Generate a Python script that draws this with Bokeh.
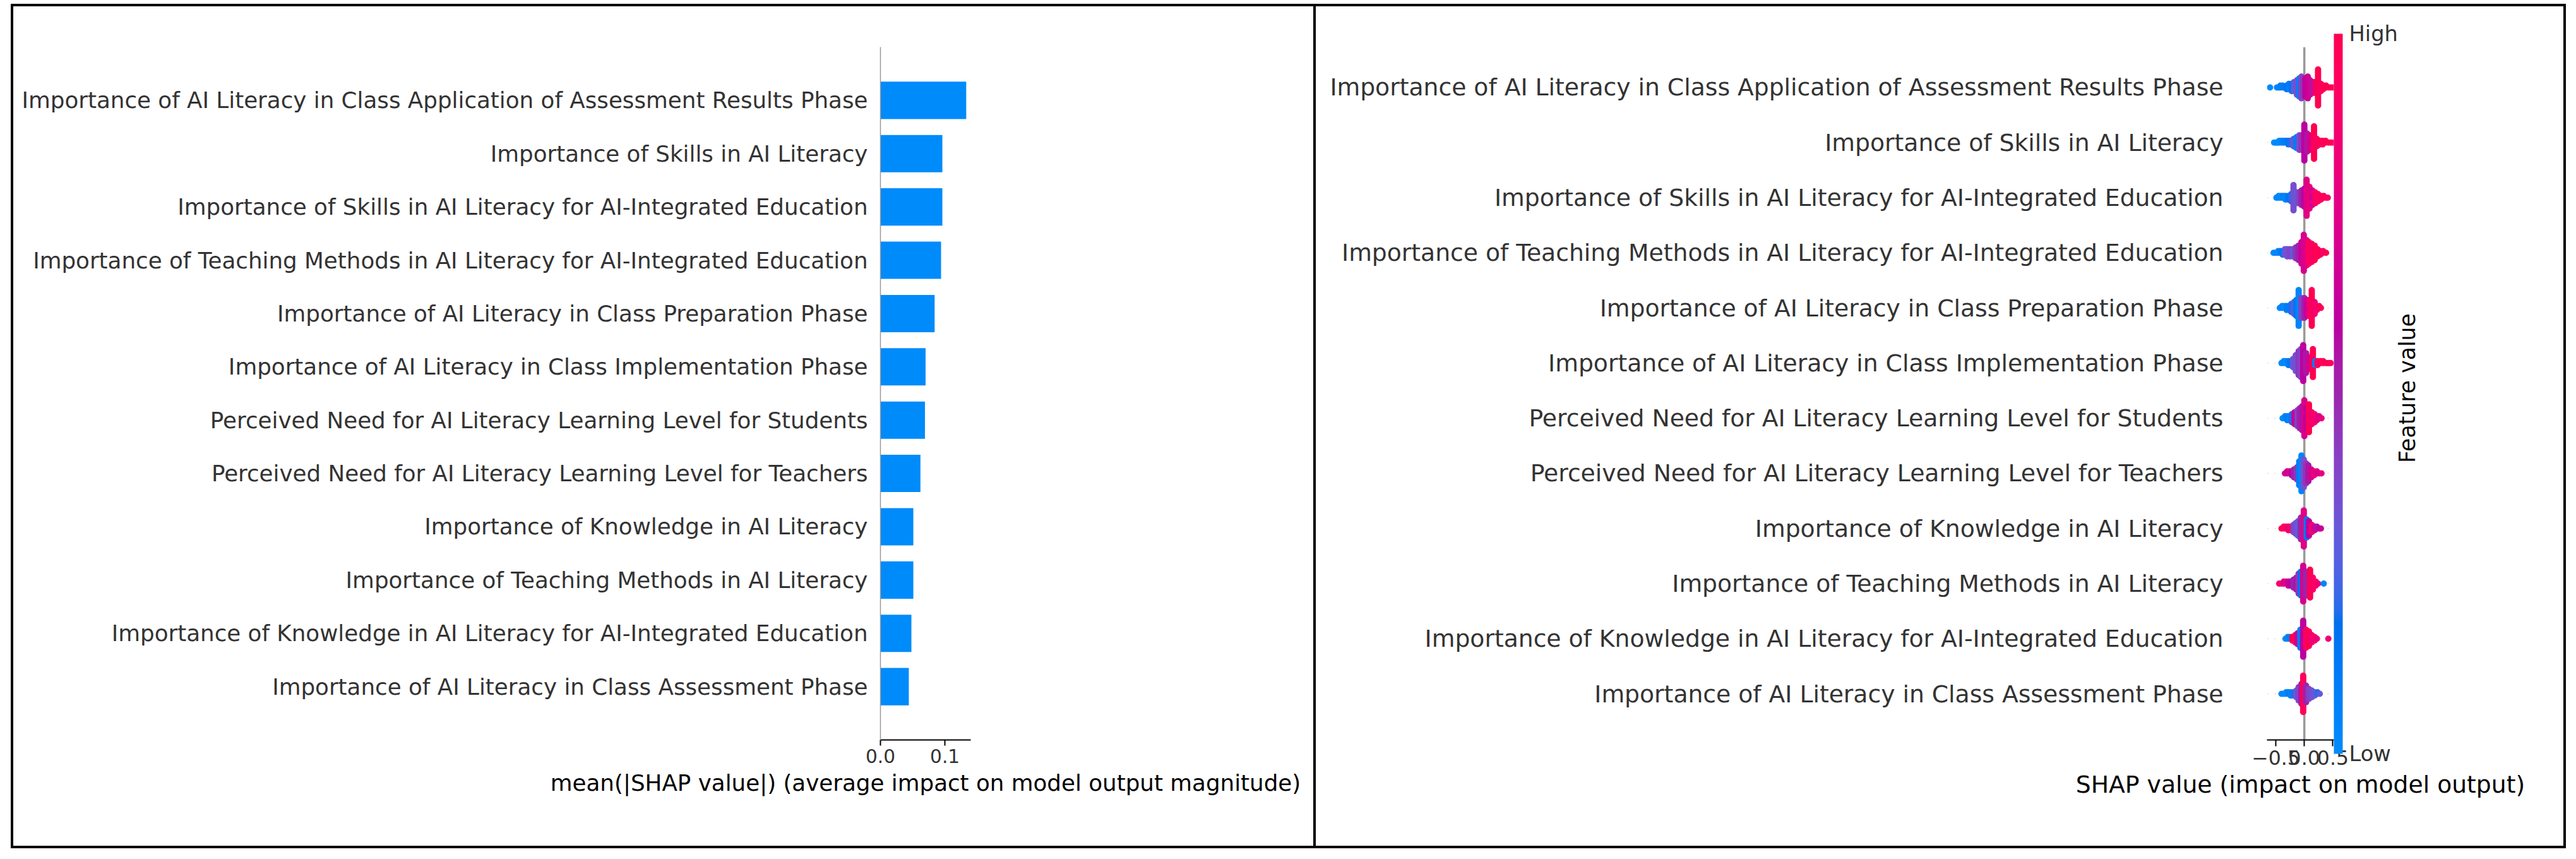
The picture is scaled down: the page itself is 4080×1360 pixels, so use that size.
import numpy as np
from bokeh.plotting import figure
from bokeh.models import (Range1d, FixedTicker, LinearColorMapper, ColorBar, Span,
                          ColumnDataSource, Spacer, LinearAxis)
from bokeh.layouts import row, column
from bokeh.embed import file_html
from bokeh.resources import INLINE

FONT = "DejaVu Sans"

# ---------------- data ----------------
features = [
    "Importance of AI Literacy in Class Application of Assessment Results Phase",
    "Importance of Skills in AI Literacy",
    "Importance of Skills in AI Literacy for AI-Integrated Education",
    "Importance of Teaching Methods in AI Literacy for AI-Integrated Education",
    "Importance of AI Literacy in Class Preparation Phase",
    "Importance of AI Literacy in Class Implementation Phase",
    "Perceived Need for AI Literacy Learning Level for Students",
    "Perceived Need for AI Literacy Learning Level for Teachers",
    "Importance of Knowledge in AI Literacy",
    "Importance of Teaching Methods in AI Literacy",
    "Importance of Knowledge in AI Literacy for AI-Integrated Education",
    "Importance of AI Literacy in Class Assessment Phase",
]
mean_abs_shap = [0.133, 0.096, 0.096, 0.094, 0.084, 0.070, 0.069, 0.062, 0.051, 0.051, 0.048, 0.044]

bar_ticks = [0.0, 0.1]
bar_tick_labels = ["0.0", "0.1"]
swarm_ticks = [-0.5, 0.0, 0.5]
swarm_tick_labels = ["\u22120.5", "0.0", "0.5"]

# beeswarm: per feature (top to bottom) SHAP value groups, feature value (0 low..1 high), count
swarm_shap = [
    [-0.60, -0.48, -0.45, -0.42, -0.38, -0.34, -0.31, -0.27, -0.22, -0.18, -0.13, -0.09, -0.05, -0.02, 0.02, 0.06, 0.10, 0.14, 0.18, 0.24, 0.29, 0.33, 0.38, 0.42, 0.46, 0.50],
    [-0.53, -0.50, -0.47, -0.44, -0.40, -0.36, -0.32, -0.28, -0.24, -0.19, -0.14, -0.09, -0.05, 0.00, 0.05, 0.10, 0.17, 0.22, 0.27, 0.32, 0.37, 0.42, 0.46, 0.50],
    [-0.49, -0.45, -0.41, -0.37, -0.33, -0.28, -0.23, -0.19, -0.14, -0.10, -0.05, 0.00, 0.04, 0.09, 0.14, 0.19, 0.24, 0.29, 0.34, 0.38, 0.41],
    [-0.54, -0.50, -0.46, -0.42, -0.38, -0.34, -0.30, -0.25, -0.20, -0.15, -0.10, -0.05, -0.01, 0.04, 0.08, 0.13, 0.18, 0.23, 0.28, 0.33, 0.38],
    [-0.43, -0.39, -0.35, -0.31, -0.27, -0.23, -0.18, -0.14, -0.10, -0.05, 0.00, 0.04, 0.09, 0.13, 0.18, 0.22, 0.26, 0.29],
    [-0.40, -0.36, -0.32, -0.28, -0.24, -0.20, -0.15, -0.10, -0.06, -0.02, 0.03, 0.08, 0.15, 0.19, 0.23, 0.28, 0.33, 0.38, 0.42, 0.46],
    [-0.38, -0.34, -0.30, -0.26, -0.22, -0.17, -0.12, -0.08, -0.04, 0.00, 0.04, 0.08, 0.13, 0.18, 0.22, 0.26, 0.30],
    [-0.34, -0.30, -0.26, -0.22, -0.18, -0.13, -0.09, -0.05, -0.01, 0.03, 0.07, 0.12, 0.17, 0.22, 0.26, 0.30],
    [-0.40, -0.36, -0.32, -0.28, -0.24, -0.19, -0.15, -0.11, -0.06, -0.01, 0.04, 0.08, 0.13, 0.18, 0.22, 0.26, 0.29],
    [-0.44, -0.40, -0.36, -0.32, -0.28, -0.24, -0.19, -0.14, -0.10, -0.06, -0.02, 0.03, 0.10, 0.15, 0.20, 0.24, 0.34],
    [-0.33, -0.29, -0.25, -0.21, -0.16, -0.12, -0.07, -0.02, 0.03, 0.08, 0.13, 0.18, 0.22, 0.42],
    [-0.40, -0.36, -0.32, -0.28, -0.24, -0.19, -0.14, -0.10, -0.05, -0.02, 0.03, 0.08, 0.13, 0.18, 0.23, 0.27],
]
swarm_feature = [
    [0.0, 0.05, 0.05, 0.1, 0.1, 0.1, 0.15, 0.1, 0.15, 0.3, 0.35, 0.1, 0.4, 0.45, 0.6, 0.65, 0.7, 0.55, 0.8, 1.0, 0.9, 1.0, 1.0, 0.95, 1.0, 1.0],
    [0.0, 0.0, 0.05, 0.0, 0.05, 0.1, 0.1, 0.15, 0.2, 0.3, 0.1, 0.35, 0.45, 0.6, 0.55, 0.7, 1.0, 0.9, 1.0, 0.95, 1.0, 1.0, 1.0, 0.95],
    [0.0, 0.05, 0.0, 0.1, 0.05, 0.15, 0.2, 0.35, 0.3, 0.4, 0.5, 0.6, 0.75, 0.8, 0.7, 0.9, 0.95, 0.9, 1.0, 0.95, 0.9],
    [0.0, 0.05, 0.0, 0.1, 0.15, 0.3, 0.35, 0.4, 0.3, 0.45, 0.5, 0.65, 0.7, 0.75, 0.95, 0.9, 1.0, 0.95, 1.0, 0.9, 1.0],
    [0.0, 0.05, 0.0, 0.1, 0.1, 0.2, 0.25, 0.15, 0.05, 0.4, 0.5, 0.65, 0.8, 1.0, 0.85, 0.9, 1.0, 0.95],
    [0.0, 0.05, 0.0, 0.1, 0.15, 0.3, 0.35, 0.45, 0.4, 0.6, 0.55, 0.7, 1.0, 0.1, 0.9, 1.0, 0.95, 1.0, 1.0, 0.95],
    [0.0, 0.05, 0.1, 0.05, 0.2, 0.65, 0.4, 0.5, 0.55, 0.7, 0.6, 1.0, 0.85, 0.9, 0.8, 0.75, 0.8],
    [0.7, 0.65, 0.75, 0.6, 0.5, 0.45, 0.1, 0.05, 0.35, 0.45, 0.55, 0.7, 0.8, 0.75, 0.7, 0.8],
    [1.0, 0.95, 1.0, 0.8, 0.9, 0.4, 0.35, 0.3, 0.5, 0.75, 0.15, 0.6, 0.85, 0.7, 0.55, 0.6, 0.65],
    [0.85, 0.9, 0.7, 0.75, 0.65, 0.6, 0.5, 0.55, 0.45, 0.15, 0.7, 0.5, 1.0, 0.9, 0.95, 0.8, 0.05],
    [0.0, 0.05, 0.1, 1.0, 0.95, 0.7, 0.1, 0.6, 0.9, 1.0, 0.85, 0.9, 0.8, 0.85],
    [0.0, 0.05, 0.0, 0.1, 0.05, 0.2, 0.3, 0.4, 0.55, 0.95, 0.5, 0.4, 0.35, 0.3, 0.2, 0.3],
]
swarm_count = [
    [1, 1, 1, 2, 2, 1, 3, 4, 5, 6, 9, 11, 13, 11, 11, 13, 9, 7, 7, 21, 5, 3, 2, 1, 1, 1],
    [1, 1, 1, 2, 2, 2, 2, 3, 3, 5, 7, 9, 9, 21, 11, 9, 19, 5, 3, 3, 2, 1, 1, 1],
    [1, 2, 2, 2, 3, 3, 5, 15, 7, 7, 9, 11, 21, 13, 9, 7, 5, 3, 2, 1, 1],
    [1, 1, 2, 2, 3, 4, 5, 5, 5, 7, 9, 13, 21, 15, 13, 11, 9, 5, 3, 2, 1],
    [1, 2, 2, 3, 3, 5, 7, 9, 19, 11, 11, 9, 9, 19, 7, 3, 2, 1],
    [1, 2, 2, 3, 3, 5, 9, 13, 15, 19, 11, 7, 15, 3, 3, 2, 2, 1, 1, 1],
    [1, 2, 3, 3, 5, 7, 9, 11, 13, 19, 11, 15, 7, 5, 3, 2, 1],
    [1, 2, 2, 3, 5, 7, 13, 19, 15, 11, 9, 5, 3, 2, 1, 1],
    [1, 2, 2, 3, 3, 5, 7, 9, 13, 21, 11, 9, 5, 3, 2, 1, 1],
    [1, 1, 2, 2, 3, 3, 5, 7, 11, 13, 19, 13, 15, 7, 3, 1, 1],
    [1, 2, 2, 3, 5, 7, 11, 21, 11, 9, 5, 3, 1, 1],
    [1, 1, 2, 2, 3, 3, 5, 9, 13, 23, 11, 7, 5, 3, 2, 1],
]

# ---------------- shap red_blue colormap (Lch interpolation) ----------------
def lch_palette(n=256):
    half = n // 2
    L = np.concatenate([np.linspace(54.0, 40.0, half), np.linspace(40.0, 54.0, n - half)])
    C = np.linspace(70.0, 90.0, n)
    H = np.linspace(4.6588, 0.35470565 + 2 * np.pi, n)
    a = C * np.cos(H)
    b = C * np.sin(H)
    fy = (L + 16) / 116
    fx = fy + a / 500
    fz = fy - b / 200

    def finv(t):
        return np.where(t > 6 / 29, t ** 3, 3 * (6 / 29) ** 2 * (t - 4 / 29))

    xyz = np.vstack([0.95047 * finv(fx), finv(fy), 1.08883 * finv(fz)])
    M = np.array([[3.2406, -1.5372, -0.4986], [-0.9689, 1.8758, 0.0415], [0.0557, -0.2040, 1.0570]])
    rgb = M @ xyz
    rgb = np.where(rgb > 0.0031308, 1.055 * np.abs(rgb) ** (1 / 2.4) - 0.055, 12.92 * rgb)
    rgb = np.clip(rgb, 0, 1)
    return ["#%02x%02x%02x" % tuple(int(round(v * 255)) for v in rgb[:, i]) for i in range(n)]

red_blue = lch_palette()

# ---------------- left: bar chart ----------------
n_feat = len(features)
ypos = [n_feat - 1 - i for i in range(n_feat)]

p1 = figure(width=2067, height=1337, x_range=Range1d(0, 0.14), y_range=Range1d(-1, n_feat),
            output_backend="svg", toolbar_location=None,
            min_border_left=1373, min_border_right=551, min_border_top=64, min_border_bottom=176,
            styles={"border": "4px solid black", "box-sizing": "border-box"})
p1.hbar(y=ypos, left=0, right=mean_abs_shap, height=0.7, fill_color="#008bfb", line_color=None)
p1.xgrid.visible = False
p1.ygrid.visible = False
p1.outline_line_color = None

xa = p1.xaxis[0]
xa.ticker = FixedTicker(ticks=bar_ticks)
xa.major_label_overrides = dict(zip(bar_ticks, bar_tick_labels))
xa.minor_tick_line_color = None
xa.axis_line_color = "black"
xa.axis_line_width = 2
xa.major_tick_line_color = "black"
xa.major_tick_line_width = 2
xa.major_tick_in = 0
xa.major_tick_out = 9
xa.major_label_standoff = 5
xa.major_label_text_font = FONT
xa.major_label_text_font_size = "29.6px"
xa.major_label_text_color = "#333333"
xa.axis_label = "mean(|SHAP value|) (average impact on model output magnitude)"
xa.axis_label_text_font = FONT
xa.axis_label_text_font_size = "35.7px"
xa.axis_label_text_font_style = "normal"
xa.axis_label_text_color = "black"
xa.axis_label_standoff = 8

ya = p1.yaxis[0]
ya.ticker = FixedTicker(ticks=ypos)
ya.major_label_overrides = {y: f for y, f in zip(ypos, features)}
ya.minor_tick_line_color = None
ya.major_tick_line_color = None
ya.major_tick_out = 0
ya.major_tick_in = 0
ya.axis_line_color = "#999999"
ya.axis_line_width = 1.5
ya.major_label_standoff = 20
ya.major_label_text_font = FONT
ya.major_label_text_font_size = "35.7px"
ya.major_label_text_color = "#333333"

# ---------------- right: beeswarm ----------------
xs_all, ys_all, fv_all = [], [], []
row_height = 0.4
for i in range(n_feat):
    sx = np.repeat(np.array(swarm_shap[i], dtype=float), swarm_count[i])
    fv = np.repeat(np.array(swarm_feature[i], dtype=float), swarm_count[i])
    nbins = 100
    quant = np.round(nbins * (sx - sx.min()) / (sx.max() - sx.min() + 1e-8))
    inds = np.argsort(quant, kind="stable")
    layer = 0
    last_bin = -1
    ys = np.zeros(len(sx))
    for ind in inds:
        if quant[ind] != last_bin:
            layer = 0
        ys[ind] = np.ceil(layer / 2) * ((layer % 2) * 2 - 1)
        layer += 1
        last_bin = quant[ind]
    ys *= 0.9 * (row_height / np.max(ys + 1))
    xs_all.extend(sx.tolist())
    ys_all.extend((ypos[i] + ys).tolist())
    fv_all.extend(fv.tolist())

x_lo, x_hi = -0.655, 0.517
y_lo, y_hi = -0.836, 11.733
p2 = figure(width=1980, height=1337, x_range=Range1d(x_lo, x_hi), y_range=Range1d(y_lo, y_hi),
            output_backend="svg", toolbar_location=None,
            min_border_left=1506, min_border_right=368, min_border_top=15, min_border_bottom=127,
            styles={"border-top": "4px solid black", "border-right": "4px solid black",
                    "border-bottom": "4px solid black", "box-sizing": "border-box"})
p2.xgrid.visible = False
p2.ygrid.visible = False
p2.outline_line_color = None

for y in ypos:
    p2.add_layout(Span(location=y, dimension="width", line_color="#cccccc", line_width=1,
                       line_dash="2 10", level="underlay"))
p2.add_layout(Span(location=0, dimension="height", line_color="#999999", line_width=3.5,
                   level="underlay"))

mapper = LinearColorMapper(palette=red_blue, low=0, high=1)
src = ColumnDataSource(dict(x=xs_all, y=ys_all, fv=fv_all))
p2.scatter("x", "y", source=src, size=10, line_color=None,
           fill_color={"field": "fv", "transform": mapper})

xb = p2.xaxis[0]
xb.ticker = FixedTicker(ticks=swarm_ticks)
xb.major_label_overrides = dict(zip(swarm_ticks, swarm_tick_labels))
xb.minor_tick_line_color = None
xb.axis_line_color = "black"
xb.axis_line_width = 2
xb.major_tick_line_color = "black"
xb.major_tick_line_width = 2
xb.major_tick_in = 0
xb.major_tick_out = 10
xb.major_label_standoff = 6
xb.major_label_text_font = FONT
xb.major_label_text_font_size = "31.6px"
xb.major_label_text_color = "#333333"
xb.axis_label = "SHAP value (impact on model output)"
xb.axis_label_text_font = FONT
xb.axis_label_text_font_size = "37.7px"
xb.axis_label_text_font_style = "normal"
xb.axis_label_text_color = "black"
xb.axis_label_standoff = 6

yb = p2.yaxis[0]
yb.ticker = FixedTicker(ticks=ypos)
yb.major_label_overrides = {y: f for y, f in zip(ypos, features)}
yb.minor_tick_line_color = None
yb.major_tick_line_color = None
yb.major_tick_out = 0
yb.major_tick_in = 0
yb.axis_line_color = None
yb.major_label_standoff = 69
yb.major_label_text_font = FONT
yb.major_label_text_font_size = "37.7px"
yb.major_label_text_color = "#333333"

cb = ColorBar(color_mapper=mapper, ticker=FixedTicker(ticks=[0, 1]),
              major_label_overrides={0: "Low", 1: "High"}, location="center_left",
              width=14, height=1140, margin=5, padding=0, label_standoff=10,
              major_tick_line_color=None, minor_tick_line_color=None,
              bar_line_color=None, border_line_color=None, background_fill_color=None,
              major_label_text_font=FONT, major_label_text_font_size="33.7px",
              major_label_text_color="#333333")
p2.add_layout(cb, "right")

# colour-bar caption as a tickless axis label to the right of the colour bar;
# the rotated label starts at its tick, so the tick sits half a label length below the middle
y_mid = (y_lo + y_hi) / 2
caption_tick = y_mid - 1.26
fv_axis = LinearAxis(ticker=FixedTicker(ticks=[caption_tick]),
                     major_label_overrides={caption_tick: "Feature value"},
                     major_label_orientation=np.pi / 2, axis_line_color=None,
                     major_tick_line_color=None, minor_tick_line_color=None,
                     major_tick_in=0, major_tick_out=0, major_label_standoff=13,
                     major_label_text_font=FONT, major_label_text_font_size="34.7px",
                     major_label_text_color="black")
p2.add_layout(fv_axis, "right")

layout = column(Spacer(width=10, height=6), row(Spacer(width=17, height=10), p1, p2))
open("out.html", "w").write(file_html(layout, INLINE))
